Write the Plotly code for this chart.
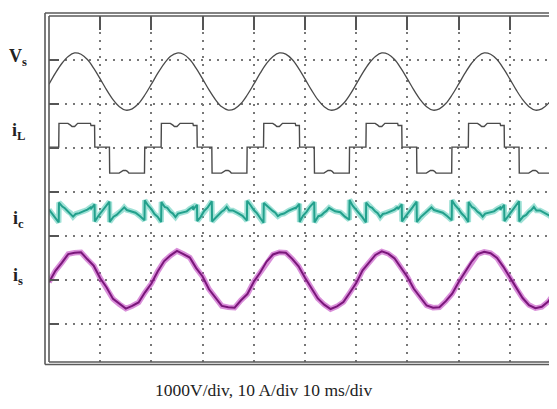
import plotly.graph_objects as go

# ---------------- data ----------------
SAMPLE_MS = 1.25          # sample spacing of vs / is traces (ms)
V_PER_DIV = 1000.0
A_PER_DIV = 10.0

# source voltage vs (V), one sample every 1.25 ms from t = 0
vs_volts = [
    -60, 190, 410, 570, 650, 620, 500, 300, 60, -190, -410, -570, -650, -620, -500, -300,
    -60, 190, 410, 575, 648, 620, 500, 300, 60, -190, -410, -575, -648, -620, -500, -300,
    -60, 190, 412, 570, 650, 622, 500, 302, 60, -190, -412, -570, -650, -622, -500, -302,
    -60, 190, 410, 570, 650, 620, 500, 300, 60, -190, -410, -570, -650, -620, -500, -300,
    -60, 190, 410, 572, 650, 620, 502, 300, 60, -190, -410, -572, -650, -620, -502, -300,
    -60,
]

# source current is (A), same sampling
is_amps = [
    -0.5, 2.1, 3.9, 5.9, 6.2, 6.3, 4.7, 3.2, 0.4, -1.7, -4.3, -5.5, -6.5, -5.9, -5.1, -2.8,
    -0.8, 2.0, 4.3, 5.6, 6.6, 5.9, 5.1, 2.7, 0.8, -2.1, -3.9, -5.9, -6.2, -6.3, -4.6, -3.2,
    -0.4, 1.7, 4.2, 5.8, 6.3, 6.2, 4.8, 3.1, 0.5, -1.8, -4.2, -5.6, -6.6, -6.0, -5.0, -2.9,
    -0.7, 2.2, 4.0, 5.7, 6.5, 6.0, 4.9, 2.8, 0.7, -2.0, -4.0, -5.8, -6.3, -6.2, -4.8, -3.1,
    -0.5, 1.8, 4.1, 5.9, 6.4, 6.1, 5.0, 3.0, 0.6, -1.9, -4.1, -5.7, -6.4, -6.1, -4.9, -3.0,
    -0.6,
]

PERIOD_MS = 20.0
period_starts_ms = [0.0, 20.0, 40.0, 60.0, 80.0]

# load current iL: vertex times inside one 20 ms period and levels (A) per period
il_event_ms = [0.0, 1.9, 1.95, 3.7, 4.2, 4.5, 5.0, 5.3, 5.6, 8.1, 8.2, 8.9, 8.95,
               11.8, 11.85, 13.7, 14.2, 14.5, 15.0, 15.3, 15.6, 18.65, 18.7]
il_levels = [
    [0, 0, 5.4, 5.4, 5.0, 4.7, 4.7, 5.0, 5.4, 5.4, 4.9, 4.9, 0, 0, -5.9, -5.9, -5.5, -5.3, -5.3, -5.5, -5.9, -5.9, 0],
    [0, 0, 5.4, 5.4, 5.0, 4.7, 4.7, 5.0, 5.4, 5.4, 4.9, 4.9, 0, 0, -5.9, -5.9, -5.5, -5.3, -5.3, -5.5, -5.9, -5.9, 0],
    [0, 0, 5.4, 5.4, 5.0, 4.7, 4.7, 5.0, 5.4, 5.4, 4.9, 4.9, 0, 0, -5.9, -5.9, -5.5, -5.3, -5.3, -5.5, -5.9, -5.9, 0],
    [0, 0, 5.4, 5.4, 5.0, 4.7, 4.7, 5.0, 5.4, 5.4, 4.9, 4.9, 0, 0, -5.9, -5.9, -5.5, -5.3, -5.3, -5.5, -5.9, -5.9, 0],
    [0, 0, 5.4, 5.4, 5.0, 4.7, 4.7, 5.0, 5.4, 5.4, 4.9, 4.9, 0, 0, -5.9, -5.9, -5.5, -5.3, -5.3, -5.5, -5.9, -5.9, 0],
]

# compensating current ic: vertex times inside one period and values (A) per period
ic_event_ms = [0.0, 0.6, 1.2, 1.9, 1.95, 2.6, 3.1, 3.7, 4.2, 4.7, 5.2, 5.9, 6.9, 7.5,
               8.1, 8.15, 8.9, 8.95, 9.6, 10.3, 11.0, 11.8, 11.85, 12.6, 13.2, 13.7,
               14.2, 14.7, 15.2, 15.9, 16.9, 17.8, 18.65, 18.7, 19.3]
ic_values = [
    [0.5, -0.4, -1.2, -2.4, 2.1, 1.2, 0.8, 0.1, -0.3, -1.1, -0.5, -0.3, 0.2, 0.5, 1.0, 0.6, 1.7, -2.2,
     -1.0, 0.1, 1.1, 2.3, -2.3, -1.1, -0.7, -0.1, 0.3, 1.0, 0.4, 0.2, -0.2, -1.0, -1.9, 2.6, 1.5],
    [0.6, -0.5, -1.1, -2.3, 2.2, 1.1, 0.9, 0.0, -0.4, -1.2, -0.4, -0.2, 0.1, 0.7, 1.1, 0.5, 1.6, -2.1,
     -1.2, 0.2, 1.0, 2.4, -2.2, -1.3, -0.5, 0.0, 0.4, 1.1, 0.3, 0.3, -0.3, -0.9, -2.0, 2.5, 1.6],
    [0.4, -0.3, -1.3, -2.5, 2.0, 1.3, 0.7, 0.2, -0.2, -1.0, -0.6, -0.4, 0.3, 0.6, 0.9, 0.7, 1.8, -2.3,
     -0.9, 0.0, 1.2, 2.2, -2.4, -1.0, -0.8, -0.2, 0.2, 0.9, 0.5, 0.1, -0.1, -1.1, -1.8, 2.7, 1.4],
    [0.5, -0.5, -1.2, -2.4, 2.1, 1.2, 0.9, 0.1, -0.3, -1.2, -0.5, -0.3, 0.2, 0.5, 1.1, 0.6, 1.7, -2.2,
     -1.1, 0.1, 1.0, 2.3, -2.3, -1.2, -0.6, -0.1, 0.3, 1.0, 0.4, 0.2, -0.2, -1.0, -1.9, 2.6, 1.5],
    [0.6, -0.4, -1.1, -2.3, 2.2, 1.1, 0.8, 0.0, -0.4, -1.1, -0.4, -0.2, 0.1, 0.6, 1.0, 0.5, 1.6, -2.1,
     -1.0, 0.2, 1.1, 2.4, -2.2, -1.1, -0.7, 0.0, 0.4, 1.1, 0.3, 0.3, -0.3, -0.9, -2.0, 2.5, 1.6],
]
ic_end = (100.0, 0.5)

# channel baselines on screen (divisions below the top edge)
offset_vs = -1.49
offset_il = -2.98
offset_ic = -4.45
offset_is = -6.0

channel_labels = ["V<sub>s</sub>", "i<sub>L</sub>", "i<sub>c</sub>", "i<sub>s</sub>"]
channel_label_y = [-0.95, -2.62, -4.62, -5.92]
caption = "1000V/div, 10 A/div 10 ms/div"

# ---------------- build series ----------------
sample_t = [i * SAMPLE_MS for i in range(len(vs_volts))]

il_t, il_y = [], []
for p0, lv in zip(period_starts_ms, il_levels):
    for e, v in zip(il_event_ms, lv):
        il_t.append(p0 + e)
        il_y.append(v)
il_t.append(100.0)
il_y.append(0.0)

ic_t, ic_y = [], []
for p0, vals in zip(period_starts_ms, ic_values):
    for e, v in zip(ic_event_ms, vals):
        ic_t.append(p0 + e)
        ic_y.append(v)
ic_t.append(ic_end[0])
ic_y.append(ic_end[1])

fig = go.Figure()

fig.add_trace(go.Scatter(x=sample_t, y=[offset_vs + v / V_PER_DIV for v in vs_volts],
                         mode="lines", line=dict(color="#4a4a4a", width=1.3, shape="spline"),
                         hoverinfo="skip"))
fig.add_trace(go.Scatter(x=il_t, y=[offset_il + v / A_PER_DIV for v in il_y],
                         mode="lines", line=dict(color="#4a4a4a", width=1.4),
                         hoverinfo="skip"))
# ic: fuzzy underlay + core
ic_plot = [offset_ic + v / A_PER_DIV for v in ic_y]
fig.add_trace(go.Scatter(x=ic_t, y=ic_plot, mode="lines",
                         line=dict(color="rgba(80,200,180,0.55)", width=5.5), hoverinfo="skip"))
fig.add_trace(go.Scatter(x=ic_t, y=ic_plot, mode="lines",
                         line=dict(color="#22a08c", width=2), hoverinfo="skip"))
# is: fuzzy underlay + core
is_plot = [offset_is + v / A_PER_DIV for v in is_amps]
fig.add_trace(go.Scatter(x=sample_t, y=is_plot, mode="lines",
                         line=dict(color="rgba(185,50,185,0.55)", width=5.5), hoverinfo="skip"))
fig.add_trace(go.Scatter(x=sample_t, y=is_plot, mode="lines",
                         line=dict(color="#7a167a", width=2), hoverinfo="skip"))

PX_W = 508.0
PX_H = 346.0
frame = dict(color="#5a5a5a", width=1.6)
shapes = [
    dict(type="line", xref="paper", yref="paper", x0=-4 / PX_W, x1=1.02, y0=1 + 3 / PX_H, y1=1 + 3 / PX_H, line=frame),
    dict(type="line", xref="paper", yref="paper", x0=0, x1=1.02, y0=1, y1=1, line=frame),
    dict(type="line", xref="paper", yref="paper", x0=-4 / PX_W, x1=-4 / PX_W, y0=-2.5 / PX_H, y1=1 + 3 / PX_H, line=frame),
    dict(type="line", xref="paper", yref="paper", x0=0, x1=0, y0=0, y1=1, line=frame),
    dict(type="line", xref="paper", yref="paper", x0=-4 / PX_W, x1=1.02, y0=-2.5 / PX_H, y1=-2.5 / PX_H, line=frame),
    dict(type="line", xref="paper", yref="paper", x0=0, x1=1.02, y0=0, y1=0, line=frame),
]

annotations = []
for txt, yy in zip(channel_labels, channel_label_y):
    annotations.append(dict(text="<b>" + txt + "</b>", xref="paper", yref="y",
                            x=-31 / PX_W, y=yy, xanchor="center", yanchor="middle",
                            showarrow=False,
                            font=dict(family="Liberation Serif", size=18, color="#222")))
annotations.append(dict(text=caption, xref="paper", yref="paper",
                        x=(263 - 49) / PX_W, y=-(390 - 362) / PX_H,
                        xanchor="center", yanchor="middle", showarrow=False,
                        font=dict(family="Liberation Serif", size=17.5, color="#222")))

# page body has an 8 px default margin, so the figure is sized / placed to compensate
fig.update_layout(
    width=549, height=401,
    margin=dict(l=41, r=0, t=8, b=47),
    paper_bgcolor="white", plot_bgcolor="white",
    showlegend=False,
    shapes=shapes,
    annotations=annotations,
    xaxis=dict(range=[0, PX_W / 51.2 * 10], tickvals=[10, 20, 30, 40, 50, 60, 70, 80, 90],
               side="top", ticks="inside", ticklen=14, tickwidth=2, tickcolor="#555",
               showticklabels=False, showgrid=True, gridcolor="#777", gridwidth=1.5,
               griddash="2px,6px", zeroline=False, showline=False),
    yaxis=dict(range=[-PX_H / 44.0, 0], tickvals=[-1, -2, -3, -4, -5, -6, -7],
               ticks="inside", ticklen=10, tickwidth=2, tickcolor="#555",
               showticklabels=False, showgrid=True, gridcolor="#777", gridwidth=1.5,
               griddash="2px,6px", zeroline=False, showline=False),
)

fig.write_html("out.html")
